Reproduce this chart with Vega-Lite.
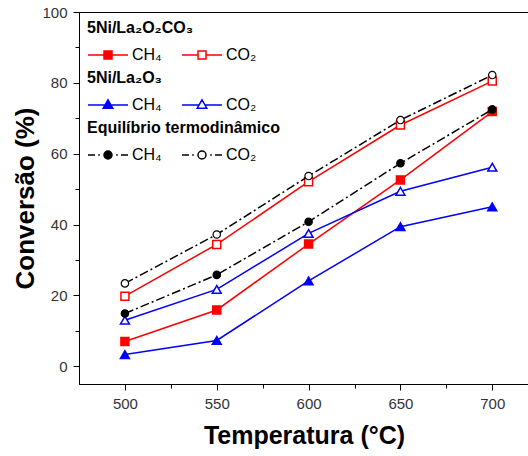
{
  "$schema": "https://vega.github.io/schema/vega-lite/v6.json",
  "width": 450,
  "height": 372,
  "autosize": "none",
  "padding": {"left": 79, "top": 12, "right": 0, "bottom": 72},
  "background": "white",
  "config": {
    "font": "Liberation Sans",
    "view": {"stroke": "black", "strokeWidth": 1},
    "legend": {
      "orient": "top-left",
      "offset": 8,
      "padding": 0,
      "columns": 2,
      "columnPadding": 17,
      "rowPadding": 0,
      "symbolSize": 1600,
      "symbolStrokeWidth": 1.5,
      "labelFont": "Liberation Sans",
      "labelFontSize": 16,
      "labelColor": "black",
      "labelOffset": 3,
      "titleFont": "Liberation Sans",
      "titleFontSize": 16,
      "titleFontWeight": "bold",
      "titleColor": "black",
      "titlePadding": -2,
      "titleLimit": 400,
      "layout": {"top-left": {"direction": "vertical", "margin": 7}}
    }
  },
  "data": {
    "values": [
      {"grupo": "5Ni/La₂O₂CO₃", "gas": "CH₄", "T": 500, "conv": 7.0},
      {"grupo": "5Ni/La₂O₂CO₃", "gas": "CH₄", "T": 550, "conv": 15.9},
      {"grupo": "5Ni/La₂O₂CO₃", "gas": "CH₄", "T": 600, "conv": 34.5},
      {"grupo": "5Ni/La₂O₂CO₃", "gas": "CH₄", "T": 650, "conv": 52.6},
      {"grupo": "5Ni/La₂O₂CO₃", "gas": "CH₄", "T": 700, "conv": 71.9},
      {"grupo": "5Ni/La₂O₂CO₃", "gas": "CO₂", "T": 500, "conv": 19.8},
      {"grupo": "5Ni/La₂O₂CO₃", "gas": "CO₂", "T": 550, "conv": 34.4},
      {"grupo": "5Ni/La₂O₂CO₃", "gas": "CO₂", "T": 600, "conv": 52.1},
      {"grupo": "5Ni/La₂O₂CO₃", "gas": "CO₂", "T": 650, "conv": 68.1},
      {"grupo": "5Ni/La₂O₂CO₃", "gas": "CO₂", "T": 700, "conv": 80.5},
      {"grupo": "5Ni/La₂O₃", "gas": "CH₄", "T": 500, "conv": 3.3},
      {"grupo": "5Ni/La₂O₃", "gas": "CH₄", "T": 550, "conv": 7.3},
      {"grupo": "5Ni/La₂O₃", "gas": "CH₄", "T": 600, "conv": 24.1},
      {"grupo": "5Ni/La₂O₃", "gas": "CH₄", "T": 650, "conv": 39.4},
      {"grupo": "5Ni/La₂O₃", "gas": "CH₄", "T": 700, "conv": 45.0},
      {"grupo": "5Ni/La₂O₃", "gas": "CO₂", "T": 500, "conv": 13.0},
      {"grupo": "5Ni/La₂O₃", "gas": "CO₂", "T": 550, "conv": 21.7},
      {"grupo": "5Ni/La₂O₃", "gas": "CO₂", "T": 600, "conv": 37.5},
      {"grupo": "5Ni/La₂O₃", "gas": "CO₂", "T": 650, "conv": 49.4},
      {"grupo": "5Ni/La₂O₃", "gas": "CO₂", "T": 700, "conv": 56.2},
      {"grupo": "Equilíbrio termodinâmico", "gas": "CH₄", "T": 500, "conv": 14.9},
      {"grupo": "Equilíbrio termodinâmico", "gas": "CH₄", "T": 550, "conv": 25.8},
      {"grupo": "Equilíbrio termodinâmico", "gas": "CH₄", "T": 600, "conv": 40.8},
      {"grupo": "Equilíbrio termodinâmico", "gas": "CH₄", "T": 650, "conv": 57.3},
      {"grupo": "Equilíbrio termodinâmico", "gas": "CH₄", "T": 700, "conv": 72.5},
      {"grupo": "Equilíbrio termodinâmico", "gas": "CO₂", "T": 500, "conv": 23.4},
      {"grupo": "Equilíbrio termodinâmico", "gas": "CO₂", "T": 550, "conv": 37.2},
      {"grupo": "Equilíbrio termodinâmico", "gas": "CO₂", "T": 600, "conv": 53.7},
      {"grupo": "Equilíbrio termodinâmico", "gas": "CO₂", "T": 650, "conv": 69.5},
      {"grupo": "Equilíbrio termodinâmico", "gas": "CO₂", "T": 700, "conv": 82.2}
    ]
  },
  "encoding": {
    "x": {
      "field": "T",
      "type": "quantitative",
      "scale": {"domain": [475, 720], "nice": false, "zero": false},
      "axis": {
        "title": "Temperatura (°C)",
        "values": [500, 525, 550, 575, 600, 625, 650, 675, 700],
        "labelExpr": "datum.value % 50 === 0 ? datum.label : ''",
        "grid": false,
        "domainColor": "black",
        "tickColor": "black",
        "tickSize": {"condition": {"test": "datum.value % 50 === 0", "value": 6}, "value": 4},
        "labelFontSize": 15,
        "labelColor": "#333333",
        "labelPadding": 6,
        "titleFontSize": 25,
        "titleFontWeight": "bold",
        "titleColor": "black",
        "titlePadding": 12
      }
    },
    "y": {
      "field": "conv",
      "type": "quantitative",
      "scale": {"domain": [-5, 100], "nice": false, "zero": false},
      "axis": {
        "title": "Conversão (%)",
        "values": [0, 10, 20, 30, 40, 50, 60, 70, 80, 90, 100],
        "labelExpr": "datum.value % 20 === 0 ? datum.label : ''",
        "grid": false,
        "domainColor": "black",
        "tickColor": "black",
        "tickSize": {"condition": {"test": "datum.value % 20 === 0", "value": 6}, "value": 4},
        "labelFontSize": 15,
        "labelColor": "#333333",
        "labelPadding": 6,
        "titleFontSize": 26,
        "titleFontWeight": "bold",
        "titleColor": "black",
        "titlePadding": 3
      }
    }
  },
  "layer": [
    {
      "transform": [{"filter": "datum.grupo === '5Ni/La₂O₂CO₃'"}],
      "layer": [
        {
          "mark": {"type": "line", "color": "#ff0000", "strokeWidth": 1.5},
          "encoding": {"detail": {"field": "gas"}}
        },
        {
          "mark": {"type": "point", "shape": "square", "size": 64, "stroke": "#ff0000", "strokeWidth": 1.5, "opacity": 1},
          "encoding": {
            "fill": {
              "field": "gas",
              "type": "nominal",
              "scale": {"domain": ["CH₄", "CO₂"], "range": ["#ff0000", "white"]},
              "legend": {
                "title": "5Ni/La₂O₂CO₃",
                "symbolType": "M-1,0H-0.2M0.2,0H1M-0.2,-0.2H0.2V0.2H-0.2Z",
                "symbolStrokeColor": "#ff0000"
              }
            }
          }
        }
      ]
    },
    {
      "transform": [{"filter": "datum.grupo === '5Ni/La₂O₃'"}],
      "layer": [
        {
          "mark": {"type": "line", "color": "#0000ff", "strokeWidth": 1.5},
          "encoding": {"detail": {"field": "gas"}}
        },
        {
          "mark": {"type": "point", "shape": "triangle-up", "size": 80, "stroke": "#0000ff", "strokeWidth": 1.5, "opacity": 1},
          "encoding": {
            "fill": {
              "field": "gas",
              "type": "nominal",
              "scale": {"domain": ["CH₄", "CO₂"], "range": ["#0000ff", "white"]},
              "legend": {
                "title": "5Ni/La₂O₃",
                "symbolType": "M-1,0H-0.15M0.15,0H1M0,-0.26L0.24,0.16L-0.24,0.16Z",
                "symbolStrokeColor": "#0000ff"
              }
            }
          }
        }
      ]
    },
    {
      "transform": [{"filter": "datum.grupo === 'Equilíbrio termodinâmico'"}],
      "layer": [
        {
          "mark": {"type": "line", "color": "black", "strokeWidth": 1.5, "strokeDash": [9, 3, 2, 3]},
          "encoding": {"detail": {"field": "gas"}}
        },
        {
          "mark": {"type": "point", "shape": "circle", "size": 55, "stroke": "black", "strokeWidth": 1.2, "opacity": 1},
          "encoding": {
            "fill": {
              "field": "gas",
              "type": "nominal",
              "scale": {"domain": ["CH₄", "CO₂"], "range": ["black", "white"]},
              "legend": {
                "title": "Equilíbrio termodinâmico",
                "symbolType": "M-1,0H-0.65M-0.49,0H-0.41M0.41,0H0.49M0.65,0H1M0.2,0A0.2,0.2,0,1,1,-0.2,0A0.2,0.2,0,1,1,0.2,0Z",
                "symbolStrokeColor": "black"
              }
            }
          }
        }
      ]
    }
  ],
  "resolve": {"scale": {"fill": "independent"}}
}
